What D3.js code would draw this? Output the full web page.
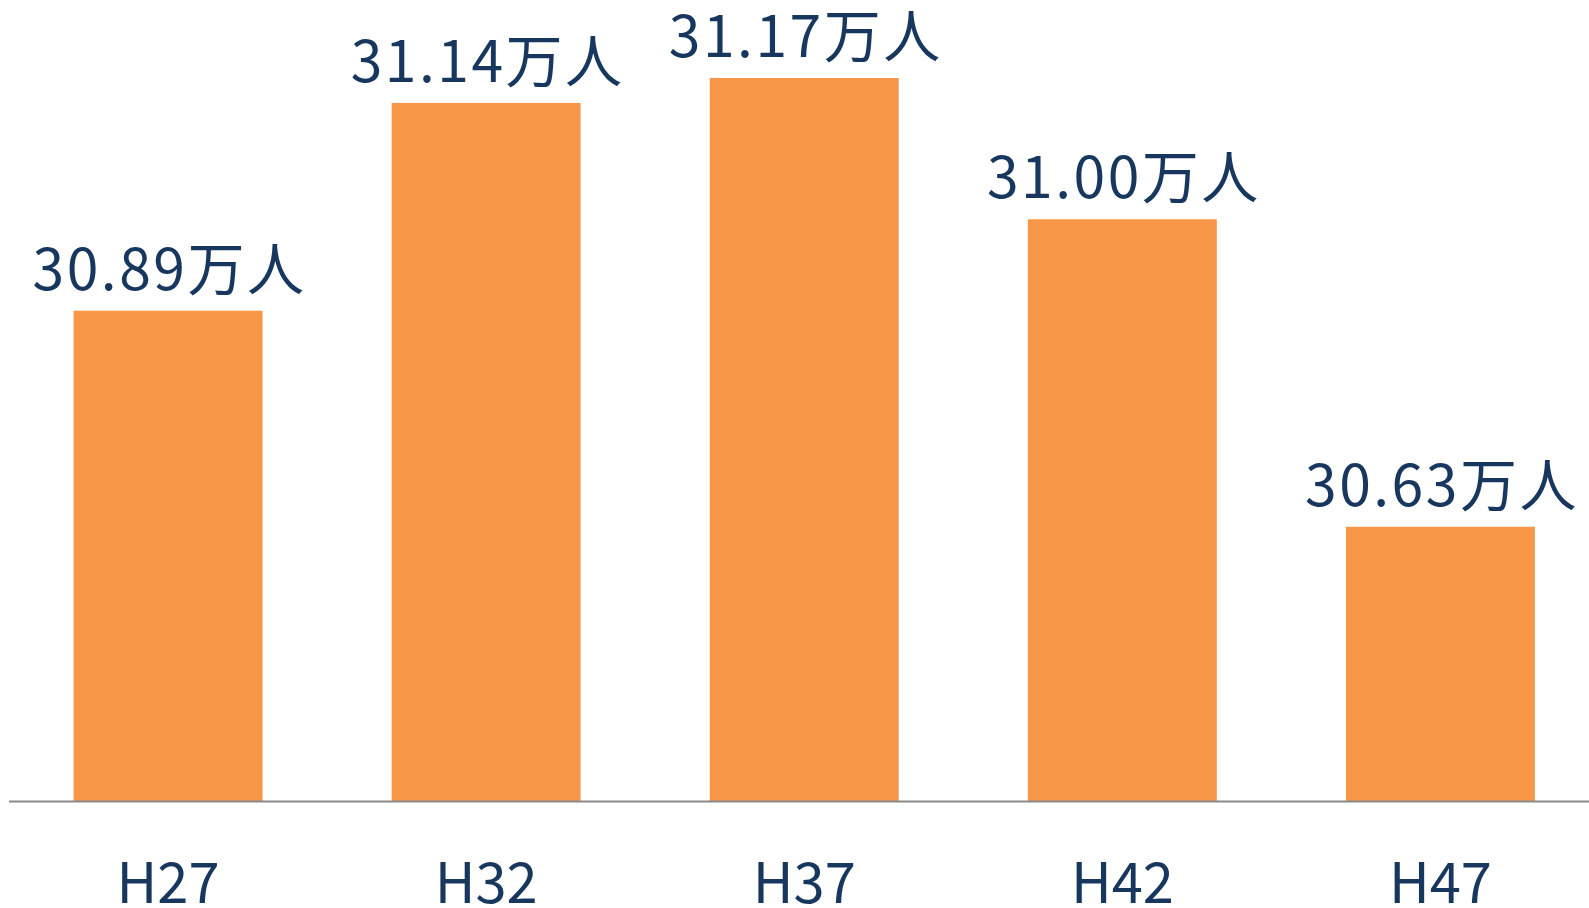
<!DOCTYPE html>
<html>
<head>
<meta charset="utf-8">
<script src="https://cdn.jsdelivr.net/npm/d3@7"></script>
<style>
  body { margin: 0; background: #fff; overflow: hidden; }
  svg { display: block; }
</style>
</head>
<body>
<svg id="chart" width="1589" height="908"></svg>
<script>
const years = ['H27', 'H32', 'H37', 'H42', 'H47'];
const population = [30.89, 31.14, 31.17, 31.00, 30.63];
const unit = '万人';

const width = 1589, height = 908;
const baseY = 801;
const svg = d3.select('#chart');

const x = d3.scaleBand()
  .domain(years)
  .range([9, 9 + 318.1 * years.length])
  .paddingInner(0.406)
  .paddingOuter(0.203);

const y = d3.scaleLinear()
  .domain([30.3, 31.3])
  .range([baseY, baseY - 831]);

const data = years.map((d, i) => ({ year: d, value: population[i] }));

// bars
svg.selectAll('rect.bar')
  .data(data)
  .join('rect')
  .attr('class', 'bar')
  .attr('x', d => x(d.year))
  .attr('y', d => y(d.value))
  .attr('width', x.bandwidth())
  .attr('height', d => baseY - y(d.value))
  .attr('fill', '#F79646');

// axis line
svg.append('line')
  .attr('x1', 9).attr('x2', width)
  .attr('y1', baseY + 0.5).attr('y2', baseY + 0.5)
  .attr('stroke', '#898989')
  .attr('stroke-width', 2);

// value labels (a bit of spacing, the original font runs wider)
svg.selectAll('text.val')
  .data(data)
  .join('text')
  .attr('class', 'val')
  .attr('x', d => x(d.year) + x.bandwidth() / 2 + 1.5)
  .attr('y', d => y(d.value) - 21)
  .attr('text-anchor', 'middle')
  .attr('font-family', '"Noto Sans CJK JP", "Noto Sans", sans-serif')
  .attr('font-size', '57px')
  .attr('letter-spacing', '2.5px')
  .attr('fill', '#17375E')
  .text(d => d.value.toFixed(2) + unit);

// category labels
svg.selectAll('text.cat')
  .data(data)
  .join('text')
  .attr('class', 'cat')
  .attr('x', d => x(d.year) + x.bandwidth() / 2)
  .attr('y', 903)
  .attr('text-anchor', 'middle')
  .attr('font-family', '"Noto Sans CJK JP", "Noto Sans", sans-serif')
  .attr('font-size', '56px')
  .attr('fill', '#17375E')
  .text(d => d.year);
</script>
</body>
</html>
